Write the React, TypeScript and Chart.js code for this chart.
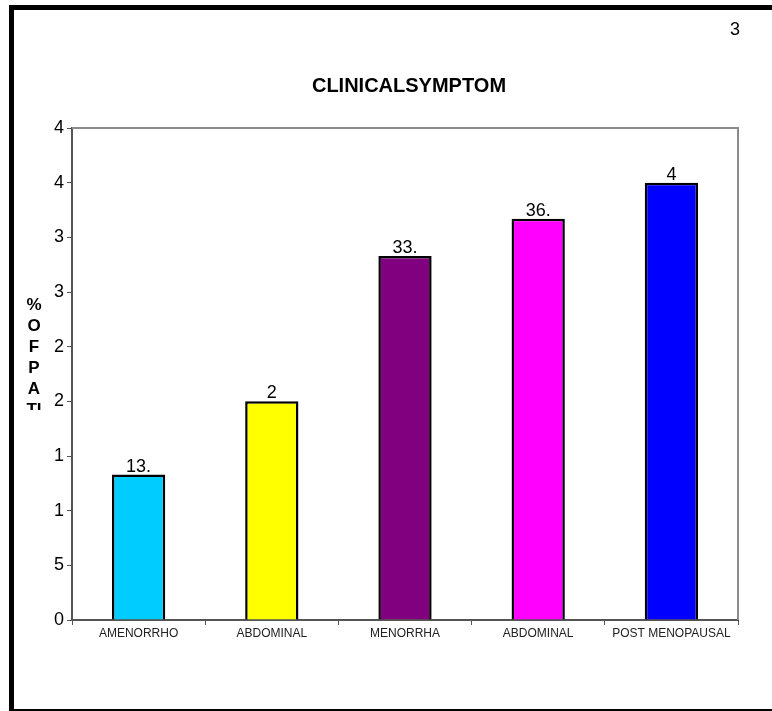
import { useEffect, useRef } from "react";
import { Chart, registerables } from "chart.js";

Chart.register(...registerables);

// Clinical symptom distribution (% of patients)
const categories = ["AMENORRHO", "ABDOMINAL", "MENORRHA", "ABDOMINAL", "POST MENOPAUSAL"];
const percentages = [13.3, 20, 33.3, 36.7, 40];
const valueLabels = ["13.", "2", "33.", "36.", "4"];
const barColors = ["#00CCFF", "#FFFF00", "#800080", "#FF00FF", "#0000FF"];
const yTickLabels = ["0", "5", "1", "1", "2", "2", "3", "3", "4", "4"];
const yTitleLetters = ["%", "O", "F", "P", "A", "TI"];
const chartTitle = "CLINICALSYMPTOM";
const pageNumber = "3";

const FONT = "'Liberation Sans', Arial, sans-serif";

const decorations = {
  id: "decorations",
  beforeDraw(chart: any) {
    const ctx = chart.ctx;
    ctx.save();
    ctx.fillStyle = "#ffffff";
    ctx.fillRect(0, 0, chart.width, chart.height);
    ctx.restore();
  },
  afterDraw(chart: any) {
    const ctx = chart.ctx;
    const { left, top, right, bottom } = chart.chartArea;
    ctx.save();

    // top and right edges of the plot box
    ctx.strokeStyle = "#8c8c8c";
    ctx.lineWidth = 2;
    ctx.beginPath();
    ctx.moveTo(left, top);
    ctx.lineTo(right, top);
    ctx.lineTo(right, bottom);
    ctx.stroke();

    // title
    ctx.fillStyle = "#000";
    ctx.textAlign = "center";
    ctx.textBaseline = "middle";
    ctx.font = `bold 20px ${FONT}`;
    ctx.fillText(chartTitle, 409, 86);

    // page number
    ctx.font = `18px ${FONT}`;
    ctx.fillText(pageNumber, 735, 30);

    // stacked y-axis title, cut off at the bottom of the text box
    ctx.save();
    ctx.beginPath();
    ctx.rect(0, 0, 60, 410);
    ctx.clip();
    ctx.font = `bold 17px ${FONT}`;
    yTitleLetters.forEach((t, i) => {
      ctx.fillText(t, 34, 305 + i * 21);
    });
    ctx.restore();

    // value labels above the bars
    ctx.font = `18px ${FONT}`;
    ctx.textBaseline = "alphabetic";
    const meta = chart.getDatasetMeta(0);
    meta.data.forEach((bar: any, i: number) => {
      ctx.fillText(valueLabels[i], bar.x, bar.y - 3);
    });

    // page frame
    ctx.fillStyle = "#000";
    ctx.fillRect(9, 5, chart.width - 9, 5);
    ctx.fillRect(9, 5, 5, chart.height - 5);
    ctx.fillRect(9, chart.height - 2, chart.width - 9, 2);

    ctx.restore();
  },
};

export default function App() {
  const canvasRef = useRef<HTMLCanvasElement>(null);

  useEffect(() => {
    const canvas = canvasRef.current;
    if (!canvas) return;
    const chart = new Chart(canvas, {
      type: "bar",
      data: {
        labels: categories,
        datasets: [
          {
            data: percentages,
            backgroundColor: barColors,
            borderColor: "#000",
            borderWidth: 2.5,
            barPercentage: 0.4,
            categoryPercentage: 1,
          },
        ],
      },
      options: {
        responsive: false,
        animation: false,
        devicePixelRatio: 1,
        layout: { padding: { left: 0, top: 128, right: 34, bottom: 0 } },
        plugins: {
          legend: { display: false },
          tooltip: { enabled: false },
          title: { display: false },
        },
        scales: {
          x: {
            offset: true,
            grid: {
              display: true,
              offset: true,
              drawOnChartArea: false,
              drawTicks: true,
              tickLength: 5,
              color: "#555",
            },
            border: { display: true, color: "#555", width: 2 },
            ticks: {
              color: "#222",
              font: { family: FONT, size: 12 },
              padding: 1,
              maxRotation: 0,
              autoSkip: false,
            },
            afterFit(scale: any) {
              scale.height = 91;
            },
          },
          y: {
            min: 0,
            max: 45,
            grid: {
              display: true,
              drawOnChartArea: false,
              drawTicks: true,
              tickLength: 5,
              color: "#555",
            },
            border: { display: true, color: "#555", width: 2 },
            ticks: {
              stepSize: 5,
              color: "#000",
              font: { family: FONT, size: 18 },
              padding: 3,
              callback: (_v: any, i: number) => yTickLabels[i],
            },
            afterFit(scale: any) {
              scale.width = 72;
            },
          },
        },
      },
      plugins: [decorations],
    });
    return () => chart.destroy();
  }, []);

  return (
    <div style={{ position: "fixed", left: 0, top: 0, width: 772, height: 711 }}>
      <canvas ref={canvasRef} width={772} height={711} style={{ display: "block" }} />
    </div>
  );
}
